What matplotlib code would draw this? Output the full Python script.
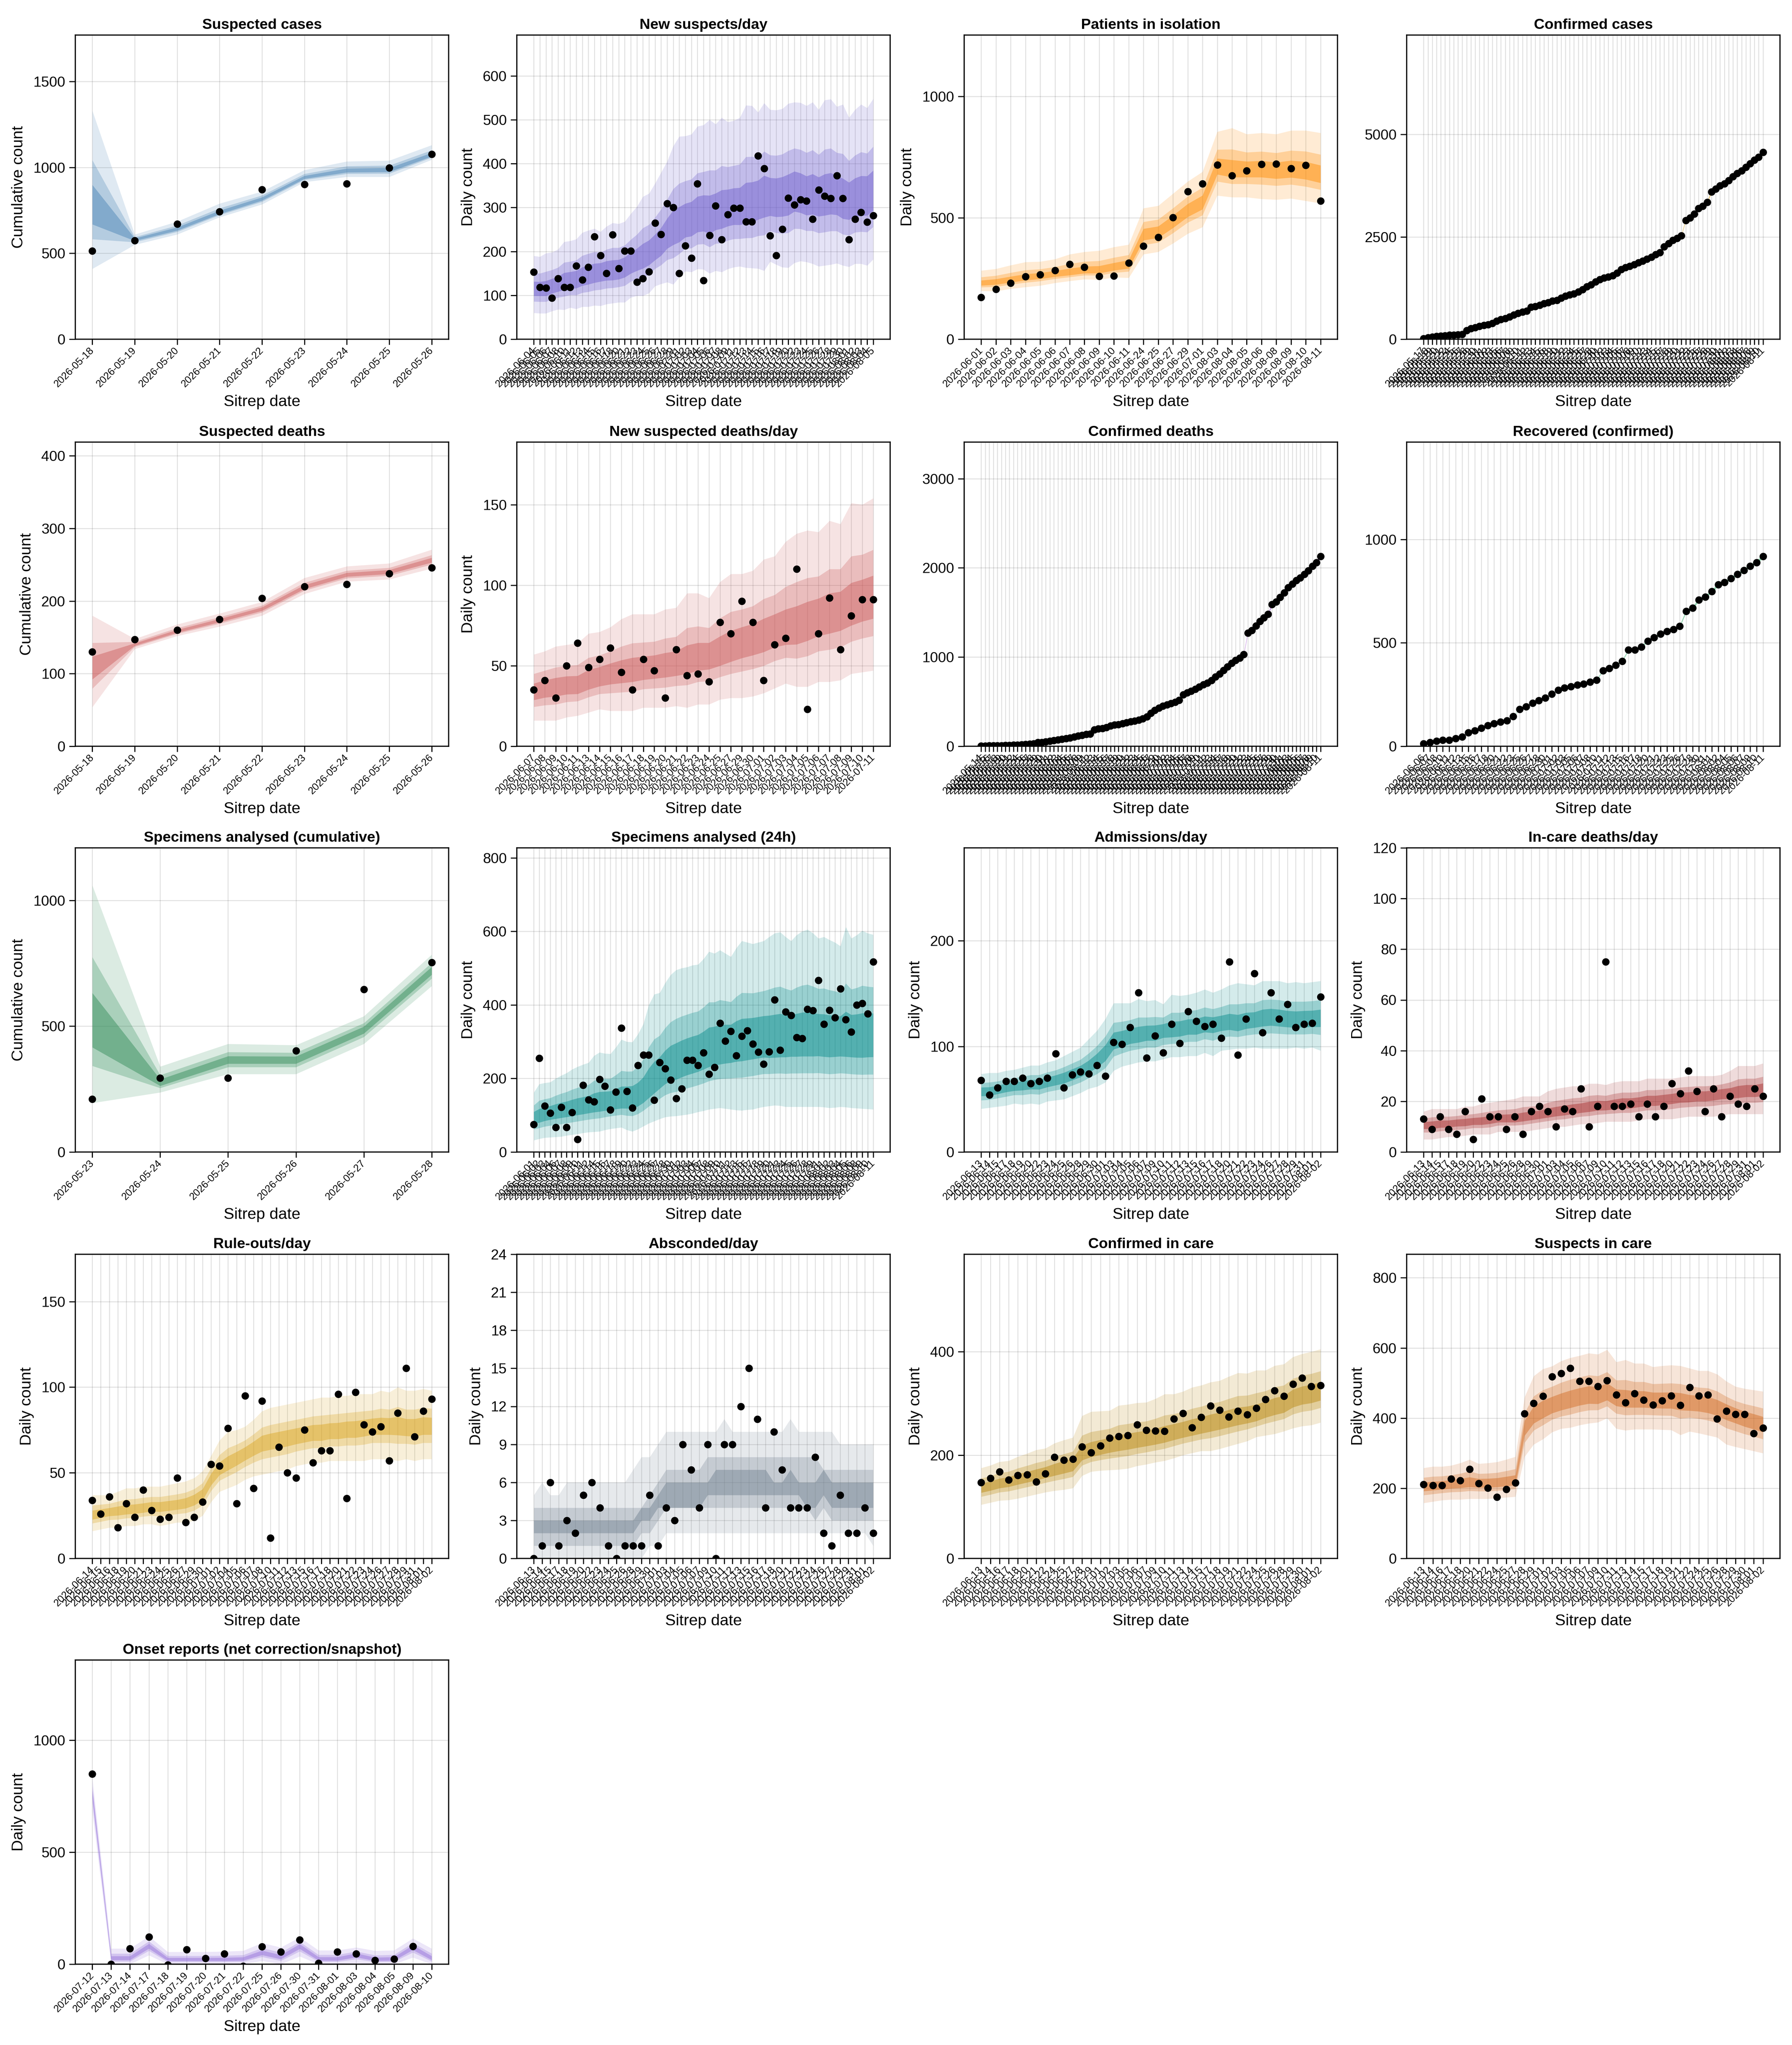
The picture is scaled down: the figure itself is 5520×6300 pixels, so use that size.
import numpy as np
import pandas as pd
import matplotlib
matplotlib.use("Agg")
import matplotlib.pyplot as plt

plt.rcParams['font.family'] = ['Liberation Sans', 'DejaVu Sans']

nan = np.nan

# ---- data ----
sus_cases_dates = ["2026-05-18", "2026-05-19", "2026-05-20", "2026-05-21", "2026-05-22",
                   "2026-05-23", "2026-05-24", "2026-05-25", "2026-05-26"]
sus_cases_obs = [514, 574, 671, 743, 871, 902, 904, 997, 1077]
sus_cases_med = [755, 580, 640, 735, 815, 940, 980, 983, 1070]
sus_cases_hi = [1330, 610, 685, 790, 860, 985, 1035, 1040, 1130]
sus_cases_lo = [410, 550, 610, 710, 785, 915, 945, 945, 1045]

new_sus_obs = [153, 118, 117, 94, 138, 118, 118, 167, 135, 164,
               234, 191, 150, 238, 161, 201, 201, 130, 138, 154,
               265, 239, 309, 300, 150, 213, 185, 354, 134, 237,
               304, 227, 284, 299, 299, 268, 268, 418, 389, 236,
               191, 251, 322, 306, 318, 315, 274, 340, 326, 321,
               373, 321, 227, 274, 289, 267, 282]
new_sus_med = [112, 112, 112, 118, 122, 128, 130, 132, 138, 142,
               146, 150, 152, 152, 154, 160, 168, 175, 182, 190,
               200, 212, 232, 245, 248, 258, 262, 272, 275, 270,
               280, 285, 290, 293, 292, 298, 300, 310, 318, 316,
               315, 318, 322, 330, 325, 318, 322, 318, 320, 323,
               320, 310, 308, 315, 318, 320, 330]
new_sus_hi = [190, 188, 196, 198, 205, 222, 224, 228, 243, 248,
              252, 245, 257, 265, 263, 268, 286, 302, 325, 332,
              355, 380, 405, 440, 462, 463, 467, 485, 488, 500,
              490, 505, 495, 498, 505, 533, 532, 517, 538, 523,
              522, 525, 537, 540, 539, 532, 540, 523, 545, 547,
              530, 535, 505, 523, 535, 527, 548]
new_sus_lo = [60, 59, 59, 64, 68, 67, 72, 69, 74, 74,
              77, 76, 80, 82, 84, 84, 95, 99, 99, 105,
              121, 126, 130, 125, 141, 155, 153, 160, 159, 150,
              156, 153, 160, 164, 166, 163, 162, 161, 156, 177,
              170, 164, 163, 174, 178, 176, 172, 166, 168, 170,
              173, 168, 165, 172, 172, 168, 182]

isolation_dates = ["2026-06-01", "2026-06-02", "2026-06-03", "2026-06-04", "2026-06-05",
                   "2026-06-06", "2026-06-07", "2026-06-08", "2026-06-09", "2026-06-10",
                   "2026-06-11", "2026-06-24", "2026-06-25", "2026-06-27", "2026-06-29",
                   "2026-07-01", "2026-08-03", "2026-08-04", "2026-08-05", "2026-08-06",
                   "2026-08-08", "2026-08-09", "2026-08-10", "2026-08-11"]
isolation_obs = [173, 206, 232, 258, 266, 283, 309, 297, 260, 261, 314, 384,
                 420, 502, 609, 641, 718, 674, 694, 721, 722, 704, 717, 570]
isolation_med = [229, 234, 243, 252, 258, 266, 272, 280, 281, 293, 305, 427,
                 437, 480, 527, 560, 708, 695, 695, 697, 690, 695, 688, 672]
isolation_hi = [283, 290, 305, 318, 320, 330, 350, 360, 365, 380, 390, 540,
                550, 600, 650, 690, 855, 870, 845, 850, 845, 860, 860, 850]
isolation_lo = [199, 198, 208, 215, 221, 232, 240, 247, 245, 255, 253, 350,
                360, 395, 435, 462, 592, 585, 585, 578, 575, 580, 570, 560]

conf_cases_obs = [13, 38, 57, 70, 82, 88, 101, 101, 114, 120,
                  215, 259, 284, 316, 341, 360, 385, 448, 486, 511,
                  549, 593, 631, 669, 688, 783, 802, 833, 871, 896,
                  934, 953, 1010, 1054, 1086, 1111, 1155, 1212, 1281, 1332,
                  1402, 1458, 1496, 1521, 1553, 1616, 1704, 1755, 1787, 1824,
                  1869, 1913, 1957, 2008, 2071, 2121, 2260, 2336, 2418, 2468,
                  2532, 2904, 2967, 3062, 3194, 3251, 3346, 3598, 3674, 3750,
                  3800, 3876, 3971, 4053, 4116, 4204, 4293, 4381, 4451, 4564]

sus_deaths_obs = [130, 147, 160, 175, 204, 220, 223, 238, 246]
sus_deaths_med = [105, 140, 158, 173, 189, 219, 236, 240, 256]
sus_deaths_hi = [180, 148, 168, 183, 199, 232, 248, 252, 271]
sus_deaths_lo = [54, 134, 152, 165, 180, 210, 227, 230, 245]

new_deaths_dates = ["2026-06-07", "2026-06-08", "2026-06-09", "2026-06-10", "2026-06-11",
                    "2026-06-13", "2026-06-14", "2026-06-15", "2026-06-16", "2026-06-17",
                    "2026-06-18", "2026-06-19", "2026-06-20", "2026-06-21", "2026-06-22",
                    "2026-06-23", "2026-06-24", "2026-06-25", "2026-06-27", "2026-06-29",
                    "2026-06-30", "2026-07-01", "2026-07-02", "2026-07-03", "2026-07-04",
                    "2026-07-05", "2026-07-06", "2026-07-07", "2026-07-08", "2026-07-09",
                    "2026-07-10", "2026-07-11"]
new_deaths_obs = [35, 41, 30, 50, 64, 49, 54, 61, 46, 35, 54, 47, 30, 60, 44, 45,
                  40, 77, 70, 90, 77, 41, 63, 67, 110, 23, 70, 92, 60, 81, 91, 91]
new_deaths_med = [33, 35, 36, 37, 37, 40, 42, 44, 45, 46, 47, 48, 49, 50, 52, 54,
                  55, 57, 60, 63, 65, 67, 70, 71, 72, 75, 78, 80, 82, 85, 88, 90]
new_deaths_hi = [57, 59, 62, 63, 64, 70, 71, 74, 79, 82, 82, 82, 85, 86, 95, 95,
                 92, 102, 107, 107, 109, 116, 118, 127, 132, 134, 133, 140, 138, 151, 150, 154]
new_deaths_lo = [16, 16, 16, 18, 19, 21, 23, 22, 22, 22, 24, 24, 24, 25, 24, 26,
                 26, 29, 30, 30, 31, 33, 36, 39, 37, 37, 40, 40, 41, 45, 46, 47]

conf_deaths_obs = [5, 5, 6, 7, 8, 9, 10, 12, 14, 16,
                   18, 22, 25, 30, 42, 45, 52, 60, 65, 72,
                   80, 88, 95, 105, 115, 125, 135, 140, 185, 195,
                   200, 210, 230, 240, 245, 255, 265, 275, 285, 295,
                   310, 330, 370, 405, 430, 450, 465, 480, 495, 515,
                   580, 600, 620, 640, 665, 690, 710, 740, 780, 810,
                   850, 890, 930, 965, 990, 1030, 1270, 1300, 1350, 1400,
                   1440, 1480, 1590, 1620, 1670, 1720, 1780, 1820, 1860, 1890,
                   1930, 1970, 2020, 2060, 2130]

recovered_obs = [13, 19, 25, 30, 30, 38, 46, 66, 75, 88,
                 100, 110, 117, 124, 145, 179, 192, 208, 221, 234,
                 252, 272, 282, 289, 296, 301, 310, 320, 365, 377,
                 392, 411, 466, 466, 480, 509, 526, 543, 556, 565,
                 580, 652, 668, 708, 722, 748, 781, 793, 811, 831,
                 851, 871, 888, 918]

spec_cum_dates = ["2026-05-23", "2026-05-24", "2026-05-25", "2026-05-26", "2026-05-27", "2026-05-28"]
spec_cum_obs = [210, 294, 294, 403, 647, 754]
spec_cum_med = [490, 272, 365, 365, 485, 720]
spec_cum_hi = [1060, 340, 430, 425, 540, 785]
spec_cum_lo = [195, 237, 310, 310, 430, 660]

spec_day_obs = [75, 255, 125, 106, 67, 122, 67, 108, 34, 182,
                142, 137, 198, 179, 115, 163, 337, 165, 120, 236,
                264, 264, 141, 244, 227, 196, 146, 172, 250, 250,
                236, 270, 212, 230, 350, 302, 328, 262, 315, 330,
                294, 272, 239, 273, 414, 277, 381, 372, 312, 309,
                388, 385, 467, 348, 386, 365, 444, 360, 327, 400,
                404, 376, 517]
spec_day_med = [92, 95, 100, 104, 107, 110, 112, 115, 118, 120, 123,
                126, 128, 130, 132, 134, 136, 138, 140, 145, 155,
                170, 185, 200, 215, 225, 230, 238, 245, 250, 255,
                262, 270, 275, 278, 282, 285, 290, 292, 295, 298,
                300, 302, 300, 300, 302, 303, 305, 305, 306, 306,
                306, 307, 305, 304, 305, 306, 305, 304, 303, 303, 305, 306]
spec_day_hi = [162, 185, 188, 190, 200, 208, 215, 225, 232, 238,
               243, 262, 271, 268, 267, 285, 306, 300, 299, 320,
               348, 400, 429, 433, 460, 482, 495, 500, 503, 508,
               510, 525, 545, 540, 549, 540, 531, 555, 574, 570,
               566, 570, 574, 585, 595, 598, 585, 574, 590, 600,
               605, 595, 581, 585, 577, 570, 560, 612, 581, 590,
               602, 595, 591]
spec_day_lo = [32, 36, 39, 40, 41, 42, 45, 47, 49, 52,
               54, 55, 56, 60, 63, 65, 67, 60, 56, 62,
               70, 78, 84, 90, 95, 97, 98, 100, 102, 105,
               109, 112, 116, 118, 120, 118, 116, 114, 113, 115,
               116, 120, 123, 125, 127, 126, 123, 123, 123, 123,
               123, 123, 123, 122, 120, 121, 123, 122, 120, 119,
               118, 117, 116]

adm_obs = [68, 54, 61, 67, 67, 70, 65, 67, 70, 93,
           61, 73, 76, 74, 82, 72, 104, 102, 118, 151,
           89, 110, 94, 121, 103, 133, 124, 119, 121, 108,
           180, 92, 126, 169, 113, 151, 126, 140, 118, 121,
           122, 147]
adm_med = [57, 57, 59, 61, 62, 63, 64, 64, 66, 68,
           70, 73, 76, 80, 86, 93, 104, 106, 109, 110,
           112, 112, 115, 115, 116, 118, 118, 120, 120, 121,
           122, 120, 123, 124, 126, 127, 126, 125, 124, 125,
           125, 126]
adm_hi = [74, 75, 75, 77, 78, 80, 82, 82, 85, 87,
          91, 95, 99, 107, 115, 126, 141, 141, 141, 145,
          143, 144, 140, 149, 148, 149, 151, 154, 151, 154,
          158, 160, 159, 158, 162, 162, 162, 160, 161, 160,
          161, 162]
adm_lo = [41, 42, 43, 44, 46, 45, 46, 45, 48, 49,
          50, 53, 56, 60, 62, 66, 77, 81, 83, 85,
          86, 86, 88, 90, 90, 91, 91, 94, 91, 96,
          97, 98, 98, 99, 98, 98, 98, 98, 99, 98,
          99, 96]

care_deaths_obs = [13, 9, 14, 9, 7, 16, 5, 21, 14, 14,
                   9, 14, 7, 16, 18, 16, 10, 17, 16, 25,
                   10, 18, 75, 18, 18, 19, 14, 19, 14, 18,
                   27, 23, 32, 24, 16, 25, 14, 22, 19, 18,
                   25, 22]
care_deaths_med = [10.5, 10.5, 11, 11, 11.5, 11.5, 12, 12, 12.5, 13,
                   13, 13, 13.5, 14, 14.5, 15, 15.5, 16, 16.5, 17,
                   17.5, 18, 18, 18.5, 19, 19, 19.5, 20, 20, 20.5,
                   21, 21.5, 21.5, 22, 22, 22.5, 23, 23, 23.5, 24,
                   24, 24.5]
care_deaths_hi = [16, 17, 17, 17, 17, 18, 18, 19, 19.5, 20,
                  20.5, 21, 22, 22, 22, 24, 25, 25.5, 26, 26,
                  27, 27, 26.5, 27.5, 28, 28, 28, 29, 29, 29,
                  29, 29.5, 30, 30, 30, 30, 30.5, 32, 34, 34,
                  34, 35]
care_deaths_lo = [5, 5, 5.5, 6, 6, 6.5, 7, 7, 7, 8,
                  8, 8, 8, 8.5, 9, 9.5, 10, 10, 10.5, 11,
                  11, 11.5, 12, 12, 12, 12, 12.5, 13, 13, 13,
                  13, 13.5, 14, 14, 14, 14, 14.5, 15, 15, 15,
                  15, 15]

ruleout_obs = [34, 26, 36, 18, 32, 24, 40, 28, 23, 24,
               47, 21, 24, 33, 55, 54, 76, 32, 95, 41,
               92, 12, 65, 50, 47, 75, 56, 63, 63, 96,
               35, 97, 78, 74, 77, 57, 85, 111, 71, 86,
               93]
ruleout_med = [25, 26, 27, 27.5, 28, 28.5, 29, 30, 30, 30.5,
               31, 32, 34, 37, 46, 52, 55, 58, 61, 64,
               67, 68, 69, 70, 71, 72, 73, 73, 74, 74,
               75, 75, 76, 77, 77, 77, 77, 76, 76, 77,
               77]
ruleout_hi = [37, 37, 37, 39, 41, 41, 42, 42, 42, 43,
              44, 45, 47, 51, 60, 69, 74, 75, 77, 81,
              86, 88, 89, 90, 91, 92, 93, 94, 94, 95,
              95, 96, 96, 96, 98, 97, 100, 98, 98, 99,
              98]
ruleout_lo = [16, 17, 18, 18, 19, 19, 20, 20, 19, 20,
              21, 21, 22, 25, 33, 39, 41, 43, 46, 48,
              49, 50, 51, 52, 54, 55, 56, 56, 57, 57,
              57, 57, 57, 58, 58, 58, 57, 58, 57, 58,
              58]

abs_obs = [0, 1, 6, 1, 3, 2, 5, 6, 4, 1,
           0, 1, 1, 1, 5, 1, 4, 3, 9, 7,
           4, 9, 0, 9, 9, 12, 15, 11, 4, 10,
           7, 4, 4, 4, 8, 2, 1, 5, 2, 2,
           4, 2]
abs_lo95 = [0, 0, 0, 0, 0, 0, 0, 0, 0, 0, 0, 0, 0, 0, 1, 1, 2, 2, 2, 2, 2,
            2, 2, 2, 2, 2, 2, 2, 2, 2, 2, 2, 2, 2, 2, 2, 2, 2, 2, 2, 2, 1]
abs_hi95 = [5, 6, 5, 5, 6, 6, 6, 6, 6, 6, 6, 6, 7, 8, 8, 9, 10, 10, 10, 10, 10,
            10, 10, 11, 10, 10, 10, 10, 10, 10, 10, 11, 10, 10, 10, 10, 10, 9, 9, 9, 9, 9]
abs_lo80 = [1, 1, 1, 1, 1, 1, 1, 1, 1, 1, 1, 1, 1, 2, 2, 3, 4, 4, 4, 4, 4,
            4, 4, 4, 4, 4, 4, 4, 4, 4, 4, 4, 4, 4, 3, 4, 3, 3, 3, 3, 3, 3]
abs_hi80 = [4, 4, 4, 4, 4, 4, 4, 4, 4, 4, 4, 4, 4, 4, 5, 6, 7, 7, 7, 7, 7,
            8, 8, 8, 8, 8, 8, 8, 8, 8, 8, 8, 8, 8, 8, 7, 7, 7, 7, 7, 7, 7]
abs_lo50 = [2, 2, 2, 2, 2, 2, 2, 2, 2, 2, 2, 2, 2, 3, 3, 4, 4, 4, 4, 4, 4,
            5, 5, 5, 5, 5, 5, 5, 5, 5, 5, 5, 5, 4, 4, 5, 4, 4, 4, 4, 4, 4]
abs_hi50 = [3, 3, 3, 3, 3, 3, 3, 3, 3, 3, 3, 3, 3, 4, 4, 5, 6, 6, 6, 6, 6,
            6, 7, 7, 7, 7, 7, 7, 7, 6, 6, 7, 6, 6, 6, 7, 6, 6, 6, 6, 6, 6]

conf_care_obs = [147, 155, 168, 152, 161, 162, 148, 164, 196, 190,
                 192, 216, 205, 218, 233, 236, 238, 259, 248, 247,
                 246, 270, 281, 253, 273, 295, 287, 274, 285, 278,
                 291, 308, 325, 314, 337, 349, 333, 335]
conf_care_med = [135, 139, 144, 147, 152, 156, 160, 165, 170, 175,
                 180, 200, 206, 211, 216, 220, 223, 226, 229, 232,
                 236, 241, 245, 249, 253, 258, 262, 266, 270, 273,
                 276, 284, 290, 294, 306, 312, 315, 320]
conf_care_hi = [175, 180, 187, 189, 197, 203, 210, 213, 223, 229,
                234, 276, 284, 285, 286, 296, 298, 301, 302, 309,
                318, 318, 323, 331, 335, 341, 344, 352, 359, 358,
                364, 364, 373, 376, 390, 396, 400, 405]
conf_care_lo = [104, 108, 112, 113, 116, 120, 124, 128, 131, 133,
                136, 160, 168, 170, 171, 172, 174, 179, 182, 186,
                189, 194, 200, 204, 208, 208, 212, 217, 222, 227,
                235, 238, 241, 246, 252, 256, 258, 263]

sus_care_obs = [211, 208, 208, 227, 222, 254, 214, 201, 175, 197,
                216, 413, 442, 463, 518, 527, 542, 505, 505, 490,
                507, 466, 444, 470, 452, 438, 450, 464, 437, 488,
                464, 466, 398, 420, 411, 411, 356, 372]
sus_care_med = [203, 205, 207, 210, 212, 215, 213, 213, 214, 217,
                220, 370, 405, 420, 432, 440, 448, 455, 460, 458,
                468, 456, 452, 451, 451, 449, 448, 448, 446, 441,
                440, 436, 428, 418, 408, 397, 389, 380]
sus_care_hi = [258, 262, 262, 265, 272, 282, 270, 272, 275, 282,
               290, 460, 520, 540, 548, 563, 572, 578, 585, 582,
               595, 560, 566, 556, 556, 546, 549, 551, 549, 542,
               535, 535, 525, 505, 490, 484, 480, 476]
sus_care_lo = [158, 162, 166, 168, 168, 170, 170, 170, 172, 174,
               176, 290, 325, 340, 360, 370, 373, 380, 385, 388,
               400, 370, 365, 368, 368, 368, 367, 366, 352, 362,
               357, 351, 345, 325, 318, 312, 306, 300]

onset_dates = ["2026-07-12", "2026-07-13", "2026-07-14", "2026-07-17", "2026-07-18",
               "2026-07-19", "2026-07-20", "2026-07-21", "2026-07-22", "2026-07-25",
               "2026-07-26", "2026-07-30", "2026-07-31", "2026-08-01", "2026-08-03",
               "2026-08-04", "2026-08-05", "2026-08-09", "2026-08-10"]
onset_obs = [848, 0, 70, 122, -3, 65, 26, 47, -8, 78, 55, 108, 5, 55, 47, 17, 23, 80, nan]
onset_med = [760, 25, 25, 80, 20, 20, 20, 20, 22, 50, 30, 80, 22, 22, 40, 20, 22, 75, 25]
onset_hi = [830, 70, 70, 125, 55, 55, 55, 57, 60, 95, 75, 120, 62, 62, 75, 60, 62, 115, 70]
onset_lo = [680, 0, 0, 40, 0, 0, 0, 0, 0, 15, 0, 35, 0, 0, 5, 0, 0, 30, 0]


def date_labels(first, last, n):
    # dense panels: labels overlap in the source, spread n sitrep dates over the span
    days = pd.date_range(first, last, freq="D")
    idx = np.round(np.linspace(0, len(days) - 1, n)).astype(int)
    return [days[i].strftime("%Y-%m-%d") for i in idx]


def narrow(vals, rel=0.015):
    v = np.asarray(vals, float)
    return v, v * (1 - rel), v * (1 + rel)


def three_bands(med, lo, hi):
    med, lo, hi = (np.asarray(a, float) for a in (med, lo, hi))
    return [(lo, hi),
            (med - 0.5 * (med - lo), med + 0.5 * (hi - med)),
            (med - 0.25 * (med - lo), med + 0.25 * (hi - med))]


cc_med, cc_lo, cc_hi = narrow(conf_cases_obs)
cd_med, cd_lo, cd_hi = narrow(conf_deaths_obs)
rc_med, rc_lo, rc_hi = narrow(recovered_obs)

panels = [
    ("Suspected cases", sus_cases_dates, sus_cases_obs,
     three_bands(sus_cases_med, sus_cases_lo, sus_cases_hi), "#4682b4", "Cumulative count", 1770, [0, 500, 1000, 1500]),
    ("New suspects/day", date_labels("2026-06-04", "2026-08-05", len(new_sus_obs)), new_sus_obs,
     three_bands(new_sus_med, new_sus_lo, new_sus_hi), "#6a5acd", "Daily count", 693, [0, 100, 200, 300, 400, 500, 600]),
    ("Patients in isolation", isolation_dates, isolation_obs,
     three_bands(isolation_med, isolation_lo, isolation_hi), "#ff8c00", "Daily count", 1253, [0, 500, 1000]),
    ("Confirmed cases", date_labels("2026-05-17", "2026-08-11", len(conf_cases_obs)), conf_cases_obs,
     three_bands(cc_med, cc_lo, cc_hi), "#daa520", None, 7430, [0, 2500, 5000]),
    ("Suspected deaths", sus_cases_dates, sus_deaths_obs,
     three_bands(sus_deaths_med, sus_deaths_lo, sus_deaths_hi), "#cd5c5c", "Cumulative count", 419, [0, 100, 200, 300, 400]),
    ("New suspected deaths/day", new_deaths_dates, new_deaths_obs,
     three_bands(new_deaths_med, new_deaths_lo, new_deaths_hi), "#cd5c5c", "Daily count", 188.8, [0, 50, 100, 150]),
    ("Confirmed deaths", date_labels("2026-05-14", "2026-08-11", len(conf_deaths_obs)), conf_deaths_obs,
     three_bands(cd_med, cd_lo, cd_hi), "#9932cc", None, 3410, [0, 1000, 2000, 3000]),
    ("Recovered (confirmed)", date_labels("2026-06-06", "2026-08-11", len(recovered_obs)), recovered_obs,
     three_bands(rc_med, rc_lo, rc_hi), "#3cb371", None, 1470, [0, 500, 1000]),
    ("Specimens analysed (cumulative)", spec_cum_dates, spec_cum_obs,
     three_bands(spec_cum_med, spec_cum_lo, spec_cum_hi), "#2e8b57", "Cumulative count", 1209, [0, 500, 1000]),
    ("Specimens analysed (24h)", date_labels("2026-06-01", "2026-08-11", len(spec_day_obs)), spec_day_obs,
     three_bands(spec_day_med, spec_day_lo, spec_day_hi), "#008b8b", "Daily count", 827, [0, 200, 400, 600, 800]),
    ("Admissions/day", date_labels("2026-06-13", "2026-08-02", len(adm_obs)), adm_obs,
     three_bands(adm_med, adm_lo, adm_hi), "#008b8b", "Daily count", 288, [0, 100, 200]),
    ("In-care deaths/day", date_labels("2026-06-13", "2026-08-02", len(care_deaths_obs)), care_deaths_obs,
     three_bands(care_deaths_med, care_deaths_lo, care_deaths_hi), "#a52a2a", "Daily count", 120, [0, 20, 40, 60, 80, 100, 120]),
    ("Rule-outs/day", date_labels("2026-06-14", "2026-08-02", len(ruleout_obs)), ruleout_obs,
     three_bands(ruleout_med, ruleout_lo, ruleout_hi), "#daa520", "Daily count", 177.6, [0, 50, 100, 150]),
    ("Absconded/day", date_labels("2026-06-13", "2026-08-02", len(abs_obs)), abs_obs,
     [(abs_lo95, abs_hi95), (abs_lo80, abs_hi80), (abs_lo50, abs_hi50)], "#708090", "Daily count", 24,
     [0, 3, 6, 9, 12, 15, 18, 21, 24]),
    ("Confirmed in care", date_labels("2026-06-13", "2026-08-02", len(conf_care_obs)), conf_care_obs,
     three_bands(conf_care_med, conf_care_lo, conf_care_hi), "#b8860b", "Daily count", 588.5, [0, 200, 400]),
    ("Suspects in care", date_labels("2026-06-13", "2026-08-02", len(sus_care_obs)), sus_care_obs,
     three_bands(sus_care_med, sus_care_lo, sus_care_hi), "#d2691e", "Daily count", 867, [0, 200, 400, 600, 800]),
    ("Onset reports (net correction/snapshot)", onset_dates, onset_obs,
     three_bands(onset_med, onset_lo, onset_hi), "#9370db", "Daily count", 1357, [0, 500, 1000]),
]

# ---- layout (pixel boxes measured on the 5520x6300 reference) ----
W, H = 5520, 6300
col_left = [232, 1592, 2970, 4333]
row_top = [108, 1362, 2612, 3864, 5114]
ax_w, ax_h = 1150, 937

fig = plt.figure(figsize=(W / 400, H / 400), dpi=400)

for k, (title, labels, obs, bands, color, ylabel, ytop, yticks) in enumerate(panels):
    r, c = divmod(k, 4)
    ax = fig.add_axes([col_left[c] / W, 1 - (row_top[r] + ax_h) / H, ax_w / W, ax_h / H])
    x = np.arange(len(labels))
    for (b_lo, b_hi), a in zip(bands, [0.17, 0.28, 0.45]):
        ax.fill_between(x, b_lo, b_hi, color=color, alpha=a, linewidth=0, zorder=1)
    ax.scatter(x, obs, s=17, color="black", linewidths=0, zorder=3)

    n = len(labels)
    ax.set_xlim(-0.05 * (n - 1), 1.05 * (n - 1))
    ax.set_ylim(0, ytop)
    ax.set_yticks(yticks)
    ax.set_xticks(x)
    ax.set_xticklabels(labels, rotation=45, ha="right", va="center",
                       rotation_mode="anchor", fontsize=5.6)
    ax.tick_params(axis="y", labelsize=8, length=3.5, width=0.6, pad=2)
    ax.tick_params(axis="x", length=3.0, width=0.6, pad=2.5)
    ax.grid(True, color="black", alpha=0.12, linewidth=0.5, zorder=0)
    ax.set_axisbelow(True)
    for sp in ax.spines.values():
        sp.set_linewidth(0.65)
    ax.set_title(title, fontsize=8.2, fontweight="bold", pad=3.5)
    ax.set_xlabel("Sitrep date", fontsize=8.8, labelpad=3)
    if ylabel:
        ax.set_ylabel(ylabel, fontsize=8.8, labelpad=4)

fig.savefig("out.png", dpi=400)
